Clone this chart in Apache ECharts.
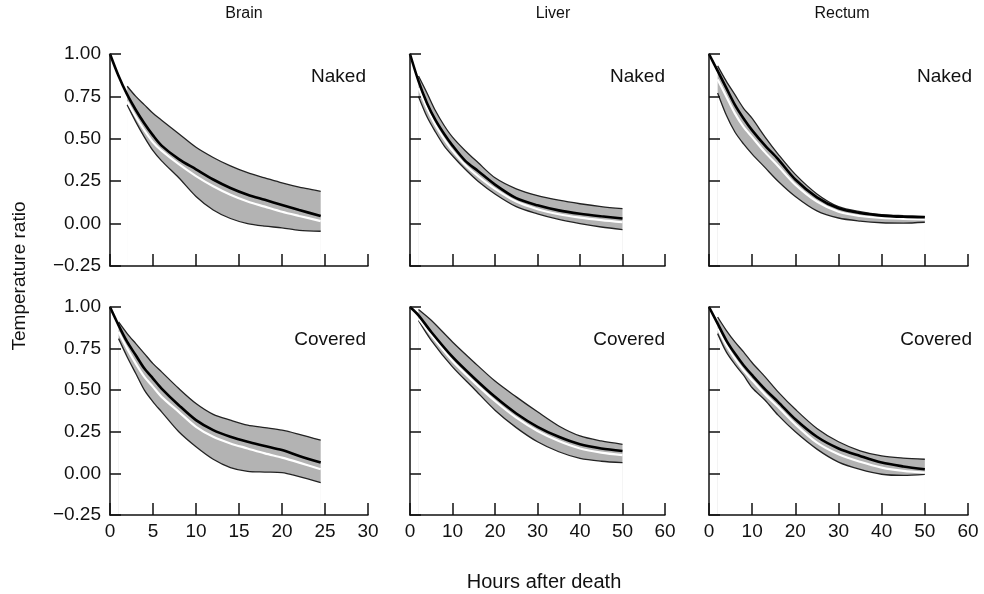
<!DOCTYPE html>
<html>
<head>
<meta charset="utf-8">
<title>Temperature ratio</title>
<script src="https://cdn.jsdelivr.net/npm/echarts@6/dist/echarts.min.js"></script>
<style>
html,body{margin:0;padding:0;background:#fff;}
#main{width:984px;height:594px;}
</style>
</head>
<body>
<div id="main"></div>
<script>
// hours after death, per organ
var brainHours = [0, 1, 2, 3, 4, 5, 6, 8, 10, 12, 14, 16, 18, 20, 22, 24.5];
var liverRectumHours = [0, 2, 4, 6, 8, 10, 13, 16, 20, 25, 30, 35, 40, 45, 50];
var liverCoveredHours = [0, 2, 5, 10, 15, 20, 25, 30, 35, 40, 45, 50];

// brain, naked
var brainNakedMean  = [1.00, 0.87, 0.76, 0.67, 0.59, 0.52, 0.46, 0.38, 0.32, 0.26, 0.21, 0.17, 0.14, 0.11, 0.08, 0.045];
var brainNakedUpper = [null, null, 0.81, 0.75, 0.70, 0.65, 0.61, 0.53, 0.45, 0.39, 0.34, 0.30, 0.27, 0.24, 0.215, 0.19];
var brainNakedLower = [null, null, 0.70, 0.60, 0.51, 0.43, 0.37, 0.27, 0.16, 0.08, 0.03, 0.00, -0.015, -0.025, -0.04, -0.045];
var brainNakedWhite = [null, null, 0.72, 0.63, 0.55, 0.48, 0.43, 0.35, 0.28, 0.22, 0.17, 0.13, 0.10, 0.07, 0.045, 0.015];

// liver, naked
var liverNakedMean  = [1.00, 0.84, 0.71, 0.61, 0.53, 0.46, 0.37, 0.31, 0.23, 0.15, 0.108, 0.078, 0.058, 0.043, 0.03];
var liverNakedUpper = [null, 0.87, 0.77, 0.665, 0.58, 0.51, 0.43, 0.36, 0.27, 0.205, 0.165, 0.138, 0.117, 0.10, 0.088];
var liverNakedLower = [null, 0.75, 0.63, 0.54, 0.46, 0.40, 0.32, 0.25, 0.175, 0.10, 0.058, 0.025, 0.0, -0.02, -0.035];
var liverNakedWhite = [null, 0.80, 0.68, 0.58, 0.50, 0.43, 0.345, 0.28, 0.205, 0.13, 0.085, 0.055, 0.035, 0.02, 0.008];

// rectum, naked
var rectumNakedMean  = [1.00, 0.90, 0.80, 0.70, 0.62, 0.55, 0.46, 0.38, 0.26, 0.155, 0.09, 0.062, 0.047, 0.04, 0.037];
var rectumNakedUpper = [null, 0.93, 0.84, 0.76, 0.68, 0.62, 0.51, 0.41, 0.29, 0.175, 0.10, 0.07, 0.053, 0.047, 0.043];
var rectumNakedLower = [null, 0.77, 0.64, 0.54, 0.47, 0.41, 0.33, 0.25, 0.16, 0.075, 0.033, 0.015, 0.005, 0.003, 0.008];
var rectumNakedWhite = [null, 0.85, 0.75, 0.65, 0.57, 0.51, 0.42, 0.34, 0.23, 0.13, 0.07, 0.045, 0.033, 0.028, 0.025];

// brain, covered
var brainCoveredMean  = [1.00, 0.89, 0.79, 0.71, 0.63, 0.57, 0.51, 0.41, 0.32, 0.26, 0.22, 0.19, 0.165, 0.14, 0.105, 0.065];
var brainCoveredUpper = [null, 0.91, 0.84, 0.78, 0.72, 0.66, 0.61, 0.51, 0.42, 0.355, 0.32, 0.29, 0.275, 0.26, 0.235, 0.20];
var brainCoveredLower = [null, 0.81, 0.70, 0.60, 0.50, 0.43, 0.37, 0.25, 0.16, 0.085, 0.035, 0.012, 0.008, 0.005, -0.02, -0.055];
var brainCoveredWhite = [null, 0.85, 0.75, 0.66, 0.58, 0.52, 0.46, 0.37, 0.28, 0.22, 0.18, 0.15, 0.12, 0.095, 0.065, 0.025];

// liver, covered
var liverCoveredMean  = [1.00, 0.95, 0.85, 0.70, 0.575, 0.46, 0.36, 0.28, 0.22, 0.175, 0.15, 0.135];
var liverCoveredUpper = [null, 0.985, 0.92, 0.79, 0.67, 0.555, 0.46, 0.37, 0.285, 0.225, 0.195, 0.175];
var liverCoveredLower = [null, 0.92, 0.80, 0.64, 0.51, 0.38, 0.275, 0.19, 0.13, 0.09, 0.073, 0.065];
var liverCoveredWhite = [null, 0.93, 0.83, 0.675, 0.55, 0.435, 0.335, 0.255, 0.195, 0.15, 0.125, 0.11];

// rectum, covered
var rectumCoveredMean  = [1.00, 0.90, 0.80, 0.72, 0.65, 0.59, 0.505, 0.43, 0.325, 0.22, 0.15, 0.105, 0.065, 0.042, 0.025];
var rectumCoveredUpper = [null, 0.94, 0.86, 0.79, 0.73, 0.665, 0.58, 0.49, 0.385, 0.27, 0.19, 0.136, 0.105, 0.092, 0.085];
var rectumCoveredLower = [null, 0.84, 0.73, 0.655, 0.59, 0.515, 0.44, 0.35, 0.25, 0.146, 0.068, 0.024, -0.005, -0.012, -0.006];
var rectumCoveredWhite = [null, 0.87, 0.77, 0.69, 0.62, 0.56, 0.475, 0.40, 0.295, 0.185, 0.115, 0.07, 0.035, 0.015, 0.005];

var columnTitles = ['Brain', 'Liver', 'Rectum'];
var rowTitles = ['Naked', 'Covered'];
var xMaxList = [30, 60, 60];
var xStepList = [5, 10, 10];

var FONT = '"Liberation Sans", Arial, Helvetica, sans-serif';
var BAND_COLOR = '#b3b3b3';

var panels = [
	{hours: brainHours, mean: brainNakedMean, upper: brainNakedUpper, lower: brainNakedLower, white: brainNakedWhite},
	{hours: liverRectumHours, mean: liverNakedMean, upper: liverNakedUpper, lower: liverNakedLower, white: liverNakedWhite},
	{hours: liverRectumHours, mean: rectumNakedMean, upper: rectumNakedUpper, lower: rectumNakedLower, white: rectumNakedWhite},
	{hours: brainHours, mean: brainCoveredMean, upper: brainCoveredUpper, lower: brainCoveredLower, white: brainCoveredWhite},
	{hours: liverCoveredHours, mean: liverCoveredMean, upper: liverCoveredUpper, lower: liverCoveredLower, white: liverCoveredWhite},
	{hours: liverRectumHours, mean: rectumCoveredMean, upper: rectumCoveredUpper, lower: rectumCoveredLower, white: rectumCoveredWhite}
];

// grid boxes (left, width) per column, (top, height) per row
var colBox = [[110, 258], [410, 255], [709, 259]];
var rowBox = [[54, 212], [307, 208]];

function toPairs(hours, vals){
	var out = [];
	hours.forEach(function(h, k){
		if (vals[k] !== null) out.push([h, vals[k]]);
	});
	return out;
}

var grids = [], xAxes = [], yAxes = [], series = [];

panels.forEach(function(p, i){
	var row = Math.floor(i / 3), col = i % 3;
	grids.push({
		left: colBox[col][0], width: colBox[col][1],
		top: rowBox[row][0], height: rowBox[row][1],
		containLabel: false
	});
	xAxes.push({
		gridIndex: i,
		type: 'value',
		min: 0, max: xMaxList[col], interval: xStepList[col],
		z: 10,
		axisLine: {onZero: false, lineStyle: {color: '#111', width: 1.5}},
		axisTick: {inside: true, length: 12, lineStyle: {color: '#111', width: 1.5}},
		axisLabel: {show: row === 1, color: '#111', fontSize: 19, fontFamily: FONT, margin: 7},
		splitLine: {show: false}
	});
	yAxes.push({
		gridIndex: i,
		type: 'value',
		min: -0.25, max: 1, interval: 0.25,
		z: 10,
		axisLine: {onZero: false, lineStyle: {color: '#111', width: 1.5}},
		axisTick: {inside: true, length: 11, lineStyle: {color: '#111', width: 1.5}},
		axisLabel: {
			show: col === 0, color: '#111', fontSize: 19, fontFamily: FONT, margin: 9,
			formatter: function(v){ return v.toFixed(2).replace('-', '\u2212'); }
		},
		splitLine: {show: false}
	});

	var lowerPairs = toPairs(p.hours, p.lower);
	// upper bound: grey fill down to the axis floor
	series.push({
		type: 'line', xAxisIndex: i, yAxisIndex: i,
		data: toPairs(p.hours, p.upper),
		symbol: 'none', smooth: 0.3, silent: true,
		lineStyle: {color: '#222', width: 1.3},
		areaStyle: {color: BAND_COLOR, opacity: 1, origin: 'start'},
		z: 1
	});
	// white fill under the lower bound (twice, so the antialiased seam disappears)
	series.push({
		type: 'line', xAxisIndex: i, yAxisIndex: i,
		data: lowerPairs,
		symbol: 'none', smooth: 0.3, silent: true,
		lineStyle: {opacity: 0},
		areaStyle: {color: '#fff', opacity: 1, origin: 'start'},
		z: 2
	});
	series.push({
		type: 'line', xAxisIndex: i, yAxisIndex: i,
		data: lowerPairs,
		symbol: 'none', smooth: 0.3, silent: true,
		lineStyle: {color: '#222', width: 1.3},
		areaStyle: {color: '#fff', opacity: 1, origin: 'start'},
		z: 2
	});
	// white line inside the band
	series.push({
		type: 'line', xAxisIndex: i, yAxisIndex: i,
		data: toPairs(p.hours, p.white),
		symbol: 'none', smooth: 0.3, silent: true,
		lineStyle: {color: '#fff', width: 2.2},
		z: 3
	});
	// mean curve
	series.push({
		type: 'line', xAxisIndex: i, yAxisIndex: i,
		data: toPairs(p.hours, p.mean),
		symbol: 'none', smooth: 0.3, silent: true,
		lineStyle: {color: '#000', width: 2.6},
		z: 4
	});
});

var texts = [];
var titleCenters = [244, 553, 842];
columnTitles.forEach(function(t, c){
	texts.push({type: 'text', x: titleCenters[c], y: 14,
		style: {text: t, font: '16px ' + FONT, fill: '#111', textAlign: 'center', textVerticalAlign: 'middle'}});
});
var rowLabelRight = [366, 665, 972];
var rowLabelY = [77, 340];
rowTitles.forEach(function(t, r){
	rowLabelRight.forEach(function(x){
		texts.push({type: 'text', x: x, y: rowLabelY[r],
			style: {text: t, font: '19px ' + FONT, fill: '#111', textAlign: 'right', textVerticalAlign: 'middle'}});
	});
});
texts.push({type: 'text', x: 20, y: 276, rotation: Math.PI / 2,
	style: {text: 'Temperature ratio', font: '19px ' + FONT, fill: '#111', textAlign: 'center', textVerticalAlign: 'middle'}});
texts.push({type: 'text', x: 544, y: 582,
	style: {text: 'Hours after death', font: '20px ' + FONT, fill: '#111', textAlign: 'center', textVerticalAlign: 'middle'}});

var myChart = echarts.init(document.getElementById('main'), null, {renderer: 'canvas'});
myChart.setOption({
	backgroundColor: '#fff',
	animation: false,
	grid: grids,
	xAxis: xAxes,
	yAxis: yAxes,
	series: series,
	graphic: texts
});
</script>
</body>
</html>
